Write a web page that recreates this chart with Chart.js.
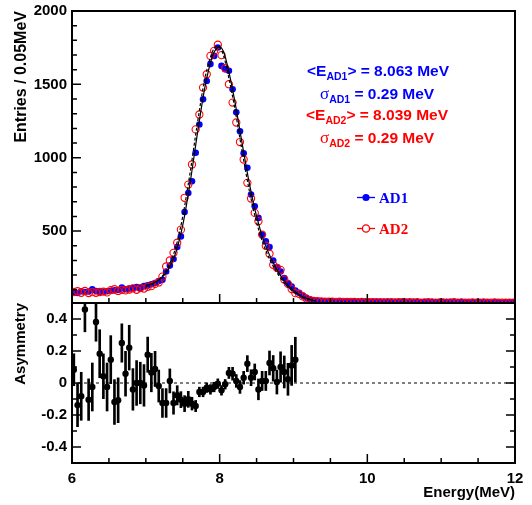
<!DOCTYPE html>
<html>
<head>
<meta charset="utf-8">
<script src="https://cdn.jsdelivr.net/npm/chart.js@4.4.1/dist/chart.umd.min.js"></script>
<style>
  html, body { margin: 0; padding: 0; background: #fff; overflow: hidden; }
  #wrap { position: relative; width: 532px; height: 505px; overflow: hidden; }
  canvas { position: absolute; left: 0; }
</style>
</head>
<body>
<div id="wrap">
  <canvas id="top" width="532" height="330" style="top:-10px"></canvas>
  <canvas id="bottom" width="532" height="220" style="top:285px"></canvas>
</div>
<script>
// 0.05 MeV bins from 6 to 12 MeV
const binLow = 6, binWidth = 0.05;

// entries per bin, AD1 (blue, filled) and AD2 (red, open)
const ad1 = [
  82, 78, 90, 85, 88, 104, 92, 86, 88, 90,
  93, 96, 99, 115, 104, 108, 112, 118, 110, 125,
  130, 138, 146, 160, 168, 225, 265, 310, 391, 464,
  630, 760, 840, 1034, 1227, 1398, 1523, 1638, 1694, 1751,
  1626, 1603, 1592, 1467, 1310, 1180, 1030, 932, 749, 669,
  590, 476, 430, 391, 300, 255, 225, 180, 145, 122,
  95, 80, 60, 45, 34, 28, 24, 22, 21, 20,
  21, 19, 20, 19, 18, 19, 18, 17, 19, 18,
  17, 18, 17, 16, 18, 17, 16, 17, 16, 17,
  16, 15, 17, 16, 15, 16, 15, 16, 15, 14,
  15, 16, 15, 14, 15, 16, 14, 15, 14, 15,
  14, 15, 14, 13, 15, 14, 13, 14, 15, 14
];
const ad2 = [
  85, 90, 80, 92, 78, 84, 80, 85, 88, 82,
  98, 104, 92, 100, 96, 102, 110, 100, 112, 108,
  120, 125, 140, 150, 190, 259, 300, 352, 421, 510,
  727, 817, 954, 1193, 1295, 1478, 1569, 1694, 1728, 1770,
  1699, 1610, 1501, 1376, 1240, 1107, 988, 829, 722, 624,
  567, 476, 400, 346, 270, 250, 236, 170, 140, 105,
  77, 72, 55, 40, 30, 25, 22, 21, 19, 20,
  19, 18, 19, 18, 17, 18, 17, 16, 17, 16,
  15, 16, 16, 15, 14, 16, 15, 14, 15, 16,
  14, 15, 14, 15, 13, 14, 15, 14, 13, 14,
  14, 13, 14, 15, 13, 14, 13, 12, 14, 13,
  13, 14, 12, 13, 14, 12, 13, 12, 13, 12
];

// fitted curves
const fitE   = [7.0, 7.1, 7.2, 7.3, 7.4, 7.5, 7.6, 7.7, 7.8, 7.9, 7.95, 8.0, 8.05, 8.1, 8.2, 8.3, 8.4, 8.5, 8.6, 8.7, 8.8, 8.9, 9.0, 9.1, 9.2, 9.3];
const fitAD1 = [128, 145, 175, 235, 345, 540, 830, 1170, 1480, 1690, 1740, 1755, 1725, 1640, 1400, 1110, 830, 600, 430, 310, 215, 145, 95, 60, 38, 25];
const fitAD2 = [122, 142, 180, 255, 380, 600, 900, 1240, 1540, 1720, 1755, 1750, 1700, 1600, 1350, 1055, 780, 560, 400, 285, 198, 132, 86, 55, 35, 23];

// asymmetry per bin, 6.0 - 9.05 MeV
const asym = [
  0.083, -0.138, -0.083, 0.46, -0.104, -0.025, 0.381, 0.183, 0.042, -0.025,
  0.146, -0.119, -0.108, 0.25, 0.058, 0.221, -0.04, 0, 0, -0.015,
  0.177, 0.065, 0.088, -0.019, -0.125, -0.125, 0.013, -0.125, -0.077, -0.104,
  -0.129, -0.102, -0.129, -0.144, -0.056, -0.056, -0.029, -0.04, -0.025, -0.004,
  -0.046, -0.008, 0.063, 0.058, 0.013, -0.025, 0.033, 0.121, 0.033, 0.069,
  -0.04, 0.013, 0.013, 0.125, 0.092, 0.006, 0.10, 0.069, 0.023, 0.11, 0.146
];
const asymErr = [
  0.10, 0.135, 0.15, 0.14, 0.13, 0.15, 0.12, 0.15, 0.14, 0.15,
  0.15, 0.14, 0.14, 0.12, 0.14, 0.14, 0.13, 0.14, 0.13, 0.13,
  0.11, 0.12, 0.11, 0.10, 0.09, 0.09, 0.075, 0.07, 0.06, 0.05,
  0.05, 0.05, 0.04, 0.035, 0.03, 0.03, 0.03, 0.03, 0.03, 0.03,
  0.03, 0.03, 0.035, 0.04, 0.04, 0.04, 0.04, 0.05, 0.05, 0.05,
  0.065, 0.06, 0.06, 0.075, 0.08, 0.075, 0.095, 0.10, 0.10, 0.125, 0.14
];

const xTicks = [6, 8, 10, 12];
const yTicksTop = [500, 1000, 1500, 2000];
const yTicksAsym = [-0.4, -0.2, 0, 0.2, 0.4];

const meanAD1 = '8.063', sigmaAD1 = '0.29';
const meanAD2 = '8.039', sigmaAD2 = '0.29';

const blue = '#0000ff', red = '#ff0000';
const sans = "'Liberation Sans', Arial, sans-serif";
const serif = "'Liberation Serif', 'Times New Roman', serif";

const centre = i => binLow + binWidth * (i + 0.5);
const pts = arr => arr.map((v, i) => ({ x: centre(i), y: v }));

// ROOT-like frame with ticks pointing inside
const rootFrame = {
  id: 'rootFrame',
  afterDatasetsDraw(chart, args, o) {
    const { ctx, chartArea: a } = chart;
    const xs = chart.scales.x, ys = chart.scales.y;
    const isMajor = (v, list) => list.some(m => Math.abs(m - v) < 1e-6);
    ctx.save();
    ctx.strokeStyle = '#000';
    ctx.lineWidth = 1.5;
    ctx.beginPath();
    for (let v = xs.min; v <= xs.max + 1e-9; v += o.xMinor) {
      const px = xs.getPixelForValue(v);
      const len = isMajor(v, xTicks) ? 9 : 5;
      ctx.moveTo(px, a.bottom);
      ctx.lineTo(px, a.bottom - len);
    }
    for (let v = o.yStart; v <= ys.max + 1e-9; v += o.yMinor) {
      const py = ys.getPixelForValue(v);
      const len = isMajor(v, o.yMajor) ? 9 : 5;
      ctx.moveTo(a.left, py);
      ctx.lineTo(a.left + len, py);
      if (o.right) {
        ctx.moveTo(a.right, py);
        ctx.lineTo(a.right - len, py);
      }
    }
    ctx.stroke();
    ctx.lineWidth = 2;
    ctx.strokeRect(a.left, a.top, a.right - a.left, a.bottom - a.top);
    ctx.restore();
  }
};

function richText(ctx, x, y, parts, color) {
  ctx.fillStyle = color;
  ctx.textAlign = 'left';
  ctx.textBaseline = 'alphabetic';
  let cx = x;
  parts.forEach(p => {
    ctx.font = p.font;
    ctx.fillText(p.text, cx, y + (p.dy || 0));
    cx += ctx.measureText(p.text).width;
  });
}

// text block and legend; canvas is shifted up by 10px
const notes = {
  id: 'notes',
  afterDraw(chart) {
    const ctx = chart.ctx;
    const big = 'bold 15.5px ' + sans, sub = 'bold 10.5px ' + sans, sig = '17px ' + serif;
    ctx.save();
    ctx.translate(0, 10);
    richText(ctx, 307, 75.5, [{ text: '<E', font: big }, { text: 'AD1', font: sub, dy: 4.5 }, { text: '> = ' + meanAD1 + ' MeV', font: big }], blue);
    richText(ctx, 320, 98.5, [{ text: 'σ', font: sig }, { text: 'AD1', font: sub, dy: 4.5 }, { text: ' = ' + sigmaAD1 + ' MeV', font: big }], blue);
    richText(ctx, 306, 119.5, [{ text: '<E', font: big }, { text: 'AD2', font: sub, dy: 4.5 }, { text: '> = ' + meanAD2 + ' MeV', font: big }], red);
    richText(ctx, 320, 142.5, [{ text: 'σ', font: sig }, { text: 'AD2', font: sub, dy: 4.5 }, { text: ' = ' + sigmaAD2 + ' MeV', font: big }], red);

    // legend
    ctx.lineWidth = 1.3;
    ctx.strokeStyle = blue;
    ctx.fillStyle = blue;
    ctx.beginPath(); ctx.moveTo(357, 197.5); ctx.lineTo(375, 197.5); ctx.stroke();
    ctx.beginPath(); ctx.arc(366, 197.5, 3.6, 0, Math.PI * 2); ctx.fill();
    ctx.font = 'bold 15px ' + serif;
    ctx.fillText('AD1', 379, 203);
    ctx.strokeStyle = red;
    ctx.beginPath(); ctx.moveTo(357, 228.5); ctx.lineTo(375, 228.5); ctx.stroke();
    ctx.beginPath(); ctx.arc(366, 228.5, 3.6, 0, Math.PI * 2); ctx.fillStyle = '#fff'; ctx.fill(); ctx.stroke();
    ctx.fillStyle = red;
    ctx.fillText('AD2', 379, 234);
    ctx.restore();
  }
};

const tickFont = { family: sans, size: 15, weight: 'bold' };

new Chart(document.getElementById('top'), {
  type: 'scatter',
  data: {
    datasets: [
      {
        type: 'line', label: 'fit AD1',
        data: fitE.map((e, i) => ({ x: e, y: fitAD1[i] })),
        borderColor: '#000', borderWidth: 1.2, pointRadius: 0, fill: false,
        cubicInterpolationMode: 'monotone'
      },
      {
        type: 'line', label: 'fit AD2',
        data: fitE.map((e, i) => ({ x: e, y: fitAD2[i] })),
        borderColor: '#000', borderWidth: 1.2, borderDash: [3, 2], pointRadius: 0, fill: false,
        cubicInterpolationMode: 'monotone'
      },
      {
        label: 'AD2', data: pts(ad2),
        pointRadius: 3.6, borderWidth: 1.1, borderColor: red, backgroundColor: 'rgba(0,0,0,0)'
      },
      {
        label: 'AD1', data: pts(ad1),
        pointRadius: 3.3, borderWidth: 0, borderColor: blue, backgroundColor: blue
      }
    ]
  },
  options: {
    responsive: false,
    animation: false,
    layout: { padding: { top: 21, right: 17, bottom: 17, left: 0 } },
    plugins: {
      legend: { display: false },
      tooltip: { enabled: false },
      rootFrame: { xMinor: 0.5, yStart: 100, yMinor: 100, yMajor: yTicksTop, right: false }
    },
    scales: {
      x: { type: 'linear', min: 6, max: 12, display: false },
      y: {
        min: 10, max: 2000,
        afterFit: s => { s.width = 72; },
        afterBuildTicks: s => { s.ticks = yTicksTop.map(v => ({ value: v })); },
        grid: { display: false, drawTicks: false },
        border: { display: false },
        ticks: { font: tickFont, color: '#000', padding: 5, callback: v => String(v) },
        title: { display: true, text: 'Entries / 0.05MeV', align: 'end', color: '#000', font: { family: sans, size: 16, weight: 'bold' }, padding: { top: 12, bottom: 0 } }
      }
    }
  },
  plugins: [rootFrame, notes]
});

new Chart(document.getElementById('bottom'), {
  type: 'scatter',
  data: {
    datasets: [
      {
        label: 'Asymmetry', data: pts(asym),
        pointRadius: 3.2, borderWidth: 0, backgroundColor: '#000', borderColor: '#000'
      },
      {
        type: 'bar', label: 'error',
        data: asym.map((v, i) => ({ x: centre(i), y: [v - asymErr[i], v + asymErr[i]] })),
        backgroundColor: '#000', barThickness: 2
      },
      {
        type: 'line', label: 'zero',
        data: [{ x: 6, y: 0 }, { x: 12, y: 0 }],
        borderColor: '#000', borderWidth: 1, borderDash: [3, 3], pointRadius: 0, fill: false
      }
    ]
  },
  options: {
    responsive: false,
    animation: false,
    layout: { padding: { top: 18, right: 17, bottom: 0, left: 0 } },
    plugins: {
      legend: { display: false },
      tooltip: { enabled: false },
      rootFrame: { xMinor: 0.5, yStart: -0.5, yMinor: 0.1, yMajor: yTicksAsym, right: true }
    },
    scales: {
      x: {
        type: 'linear', min: 6, max: 12, offset: false,
        afterFit: s => { s.height = 42; },
        afterBuildTicks: s => { s.ticks = xTicks.map(v => ({ value: v })); },
        grid: { display: false, drawTicks: false, offset: false },
        border: { display: false },
        ticks: { font: tickFont, color: '#000', padding: 7, maxRotation: 0, autoSkip: false },
        title: { display: true, text: 'Energy(MeV)', align: 'end', color: '#000', font: { family: sans, size: 15, weight: 'bold' }, padding: { top: 0, bottom: 3 } }
      },
      y: {
        min: -0.5, max: 0.5,
        afterFit: s => { s.width = 72; },
        afterBuildTicks: s => { s.ticks = yTicksAsym.map(v => ({ value: v })); },
        grid: { display: false, drawTicks: false },
        border: { display: false },
        ticks: { font: tickFont, color: '#000', padding: 5 },
        title: { display: true, text: 'Asymmetry', align: 'end', color: '#000', font: { family: sans, size: 15, weight: 'bold' }, padding: { top: 12, bottom: 0 } }
      }
    }
  },
  plugins: [rootFrame]
});
</script>
</body>
</html>
